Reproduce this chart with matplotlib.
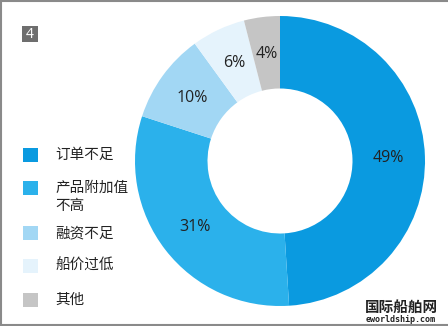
import matplotlib
matplotlib.use('agg')
import matplotlib.pyplot as plt
from matplotlib.patches import Rectangle

plt.rcParams['font.family'] = ['Noto Sans CJK SC', 'DejaVu Sans']

# data
categories = ['订单不足', '产品附加值\n不高', '融资不足', '船价过低', '其他']
shares = [49, 31, 10, 6, 4]
colors = ['#0a9ae0', '#2bb1eb', '#a2d7f4', '#e5f3fc', '#c5c5c5']

W, H = 448, 326
fig = plt.figure(figsize=(W / 100, H / 100), dpi=100)
fig.patch.set_facecolor('white')

# donut: center (280,161) px, radius 145 px
cx, cy, r = 280, 161, 145
ax = fig.add_axes([(cx - r) / W, (H - cy - r) / H, 2 * r / W, 2 * r / H])
wedges, texts, autotexts = ax.pie(
    shares, colors=colors, startangle=90, counterclock=False,
    radius=1.0, autopct='%d%%', pctdistance=0.745,
    wedgeprops=dict(width=0.5, linewidth=0),
    textprops=dict(fontsize=11.5, color='#222222', family=['Open Sans', 'DejaVu Sans']))
ax.set_xlim(-1, 1)
ax.set_ylim(-1, 1)
ax.axis('off')

# legend drawn by hand
row_y = [155, 188, 233, 266, 300]
for lab, col, y in zip(categories, colors, row_y):
    fig.patches.append(Rectangle((23 / W, (H - y - 7) / H), 15 / W, 14 / H,
                                 transform=fig.transFigure, facecolor=col,
                                 edgecolor='none'))
    lines = lab.split('\n')
    for i, ln in enumerate(lines):
        fig.text(55 / W, (H - y - i * 18) / H, ln, fontsize=10.5, color='#222222',
                 va='center', ha='left')

# panel number badge
fig.patches.append(Rectangle((22 / W, (H - 42) / H), 16 / W, 16 / H,
                             transform=fig.transFigure, facecolor='#6e6e6e',
                             edgecolor='none'))
fig.text(30 / W, (H - 34) / H, '4', fontsize=10, color='white', ha='center',
         va='center', family=['Open Sans', 'DejaVu Sans'])

# frame (left, top, bottom)
for x0, y0, x1, y1 in [(1, 0, 1, H), (0, H - 1, W, H - 1), (0, 1.5, W, 1.5)]:
    fig.add_artist(plt.Line2D([x0 / W, x1 / W], [y0 / H, y1 / H],
                              transform=fig.transFigure, color='#8a8a8a', lw=1.5))

# watermark
fig.text(401 / W, (H - 307) / H, '国际船舶网', fontsize=10.5, fontweight='bold',
         color='#222222', ha='center', va='center')
fig.text(401 / W, (H - 319.5) / H, 'eworldship.com', fontsize=6, fontweight='bold',
         color='#222222', ha='center', va='center', family=['DejaVu Sans Mono'])

fig.savefig('out.png', dpi=100)
